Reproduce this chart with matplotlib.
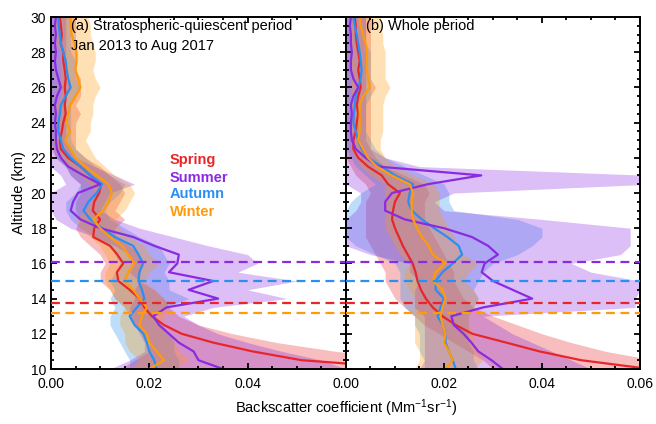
import numpy as np
import matplotlib
matplotlib.use('Agg')
from matplotlib import pyplot as plt
from matplotlib.ticker import MultipleLocator

plt.rcParams['font.family'] = ['Liberation Sans', 'DejaVu Sans']
plt.rcParams['mathtext.fontset'] = 'custom'
plt.rcParams['mathtext.rm'] = 'Liberation Sans'
plt.rcParams['mathtext.it'] = 'Liberation Sans:italic'

# altitude grid (km) of the profiles, 10 to 30 km every 0.5 km
altitude = np.arange(10, 30.01, 0.5)

seasons = ['Spring', 'Summer', 'Autumn', 'Winter']
colors = {'Spring': '#e8262a', 'Summer': '#8a2be2', 'Autumn': '#2a8ff2', 'Winter': '#ff9a0a'}
tropopause = {'Spring': 13.73, 'Summer': 16.08, 'Autumn': 15.0, 'Winter': 13.2}

# (a) stratospheric-quiescent period
spring_a = [0.075, 0.051, 0.041, 0.033, 0.0266, 0.023, 0.0205, 0.019, 0.018, 0.016, 0.0137, 0.0134, 0.0147, 0.0135,
            0.012, 0.0086, 0.0088, 0.010, 0.0085, 0.0088, 0.0098, 0.0102, 0.008, 0.006, 0.0035, 0.002, 0.0018, 0.0022,
            0.0025, 0.003, 0.0028, 0.003, 0.0028, 0.003, 0.0028, 0.0025, 0.0025, 0.002, 0.0022, 0.002, 0.0018]
spring_a_lo = [0.014, 0.017, 0.020, 0.020, 0.019, 0.017, 0.016, 0.015, 0.013, 0.012, 0.010, 0.010, 0.011, 0.010,
               0.008, 0.006, 0.005, 0.006, 0.005, 0.005, 0.006, 0.006, 0.004, 0.003, 0.001, 0.0, 0.0, 0.0,
               0.0, 0.0, 0.0, 0.0, 0.0, 0.0, 0.0, 0.0, 0.0, 0.0, 0.0, 0.0, 0.0]
spring_a_hi = [0.090, 0.075, 0.058, 0.046, 0.037, 0.030, 0.026, 0.024, 0.023, 0.021, 0.018, 0.018, 0.019, 0.018,
               0.016, 0.013, 0.013, 0.015, 0.013, 0.014, 0.015, 0.014, 0.012, 0.010, 0.007, 0.005, 0.005, 0.005,
               0.005, 0.006, 0.005, 0.006, 0.006, 0.006, 0.005, 0.005, 0.005, 0.005, 0.005, 0.005, 0.005]

summer_a = [0.035, 0.030, 0.029, 0.026, 0.024, 0.022, 0.0208, 0.0235, 0.034, 0.028, 0.033, 0.024, 0.0257, 0.026,
            0.021, 0.0167, 0.010, 0.006, 0.004, 0.0045, 0.0055, 0.010, 0.0066, 0.0035, 0.002, 0.0012, 0.001, 0.001,
            0.0008, 0.001, 0.0008, 0.0012, 0.002, 0.0015, 0.001, 0.0008, 0.001, 0.0008, 0.001, 0.0008, 0.001]
summer_a_lo = [0.012, 0.016, 0.019, 0.019, 0.018, 0.017, 0.016, 0.016, 0.017, 0.017, 0.018, 0.016, 0.017, 0.016,
               0.013, 0.009, 0.004, 0.001, 0.0, 0.0, 0.0, 0.003, 0.002, 0.0, 0.0, 0.0, 0.0, 0.0,
               0.0, 0.0, 0.0, 0.0, 0.0, 0.0, 0.0, 0.0, 0.0, 0.0, 0.0, 0.0, 0.0]
summer_a_hi = [0.060, 0.055, 0.047, 0.040, 0.034, 0.030, 0.027, 0.033, 0.048, 0.040, 0.050, 0.038, 0.042, 0.040,
               0.032, 0.025, 0.018, 0.013, 0.010, 0.011, 0.012, 0.017, 0.013, 0.009, 0.005, 0.004, 0.003, 0.003,
               0.003, 0.003, 0.003, 0.003, 0.004, 0.003, 0.003, 0.003, 0.003, 0.003, 0.003, 0.003, 0.003]

autumn_a = [0.0215, 0.021, 0.020, 0.0195, 0.0188, 0.017, 0.016, 0.0175, 0.019, 0.0185, 0.0178, 0.018, 0.0187, 0.0178,
            0.0167, 0.013, 0.0104, 0.008, 0.0066, 0.0076, 0.0093, 0.0104, 0.008, 0.006, 0.004, 0.0025, 0.002, 0.0015,
            0.0015, 0.0018, 0.002, 0.003, 0.004, 0.0035, 0.0032, 0.003, 0.0025, 0.002, 0.0018, 0.0016, 0.0015]
autumn_a_lo = [0.016, 0.016, 0.015, 0.014, 0.013, 0.012, 0.012, 0.013, 0.012, 0.013, 0.012, 0.013, 0.014, 0.013,
               0.012, 0.009, 0.006, 0.004, 0.003, 0.003, 0.005, 0.006, 0.004, 0.003, 0.001, 0.0005, 0.0, 0.0,
               0.0, 0.0, 0.0, 0.0, 0.0, 0.0, 0.0, 0.0, 0.0, 0.0, 0.0, 0.0, 0.0]
autumn_a_hi = [0.026, 0.026, 0.025, 0.025, 0.024, 0.022, 0.021, 0.023, 0.028, 0.024, 0.024, 0.023, 0.024, 0.023,
               0.022, 0.018, 0.015, 0.012, 0.011, 0.012, 0.014, 0.015, 0.012, 0.009, 0.007, 0.005, 0.004, 0.004,
               0.004, 0.004, 0.004, 0.005, 0.006, 0.005, 0.005, 0.005, 0.004, 0.004, 0.004, 0.004, 0.004]

winter_a = [0.020, 0.023, 0.0215, 0.020, 0.0195, 0.018, 0.0185, 0.0195, 0.018, 0.0167, 0.015, 0.0157, 0.017, 0.0157,
            0.0145, 0.012, 0.010, 0.0086, 0.0106, 0.0117, 0.0124, 0.0117, 0.0093, 0.007, 0.005, 0.004, 0.0029, 0.0039,
            0.0032, 0.0035, 0.0039, 0.005, 0.006, 0.0055, 0.005, 0.0052, 0.0052, 0.0048, 0.0042, 0.004, 0.004]
winter_a_lo = [0.016, 0.018, 0.016, 0.015, 0.015, 0.014, 0.014, 0.015, 0.013, 0.012, 0.011, 0.011, 0.012, 0.011,
               0.010, 0.008, 0.006, 0.005, 0.007, 0.008, 0.009, 0.008, 0.006, 0.004, 0.002, 0.001, 0.0005, 0.001,
               0.001, 0.001, 0.001, 0.002, 0.002, 0.002, 0.002, 0.002, 0.002, 0.001, 0.001, 0.001, 0.001]
winter_a_hi = [0.025, 0.028, 0.026, 0.025, 0.024, 0.022, 0.023, 0.024, 0.023, 0.021, 0.019, 0.020, 0.022, 0.020,
               0.019, 0.016, 0.014, 0.013, 0.015, 0.016, 0.017, 0.016, 0.013, 0.011, 0.009, 0.008, 0.007, 0.008,
               0.008, 0.0085, 0.0085, 0.009, 0.010, 0.009, 0.0085, 0.009, 0.009, 0.0085, 0.008, 0.008, 0.0075]

# (b) whole period
spring_b = [0.062, 0.048, 0.0395, 0.0327, 0.0258, 0.0224, 0.0197, 0.0177, 0.0163, 0.0153, 0.0146, 0.0142, 0.0136, 0.0126,
            0.0116, 0.0108, 0.010, 0.0094, 0.0096, 0.010, 0.011, 0.0086, 0.0073, 0.0045, 0.0025, 0.0015, 0.0015, 0.002,
            0.0022, 0.0025, 0.0022, 0.0025, 0.003, 0.0028, 0.0025, 0.0028, 0.0025, 0.0022, 0.002, 0.002, 0.0018]
spring_b_lo = [0.030, 0.028, 0.025, 0.022, 0.019, 0.016, 0.014, 0.012, 0.010, 0.009, 0.008, 0.008, 0.007, 0.006,
               0.005, 0.004, 0.004, 0.004, 0.004, 0.004, 0.005, 0.004, 0.002, 0.001, 0.0, 0.0, 0.0, 0.0,
               0.0, 0.0, 0.0, 0.0, 0.0, 0.0, 0.0, 0.0, 0.0, 0.0, 0.0, 0.0, 0.0]
spring_b_hi = [0.075, 0.063, 0.053, 0.046, 0.040, 0.035, 0.030, 0.026, 0.024, 0.023, 0.022, 0.022, 0.021, 0.020,
               0.019, 0.018, 0.017, 0.016, 0.016, 0.016, 0.017, 0.016, 0.012, 0.008, 0.006, 0.005, 0.005, 0.005,
               0.005, 0.005, 0.005, 0.005, 0.006, 0.005, 0.005, 0.005, 0.005, 0.005, 0.005, 0.005, 0.005]

summer_b = [0.032, 0.0297, 0.027, 0.0256, 0.024, 0.022, 0.0215, 0.028, 0.038, 0.034, 0.030, 0.0277, 0.0283, 0.031,
            0.029, 0.0257, 0.020, 0.012, 0.008, 0.008, 0.0094, 0.0167, 0.0276, 0.0066, 0.004, 0.002, 0.0012, 0.001,
            0.001, 0.0012, 0.001, 0.0015, 0.0025, 0.0015, 0.001, 0.001, 0.0012, 0.001, 0.001, 0.0008, 0.001]
summer_b_lo = [0.015, 0.016, 0.016, 0.016, 0.016, 0.016, 0.016, 0.014, 0.014, 0.014, 0.015, 0.013, 0.013, 0.005,
               0.0, 0.0, 0.0, 0.0, 0.002, 0.003, 0.003, 0.0, 0.0, 0.0, 0.0, 0.0, 0.0, 0.0,
               0.0, 0.0, 0.0, 0.0, 0.0, 0.0, 0.0, 0.0, 0.0, 0.0, 0.0, 0.0, 0.0]
summer_b_hi = [0.050, 0.046, 0.042, 0.038, 0.034, 0.031, 0.028, 0.059, 0.059, 0.060, 0.060, 0.050, 0.046, 0.056,
               0.058, 0.058, 0.058, 0.040, 0.020, 0.018, 0.022, 0.062, 0.062, 0.015, 0.008, 0.005, 0.004, 0.004,
               0.004, 0.004, 0.004, 0.004, 0.004, 0.004, 0.004, 0.004, 0.004, 0.004, 0.004, 0.004, 0.004]

autumn_b = [0.0224, 0.0218, 0.021, 0.0203, 0.0203, 0.0197, 0.0187, 0.0193, 0.020, 0.0183, 0.0183, 0.0197, 0.0218, 0.0237,
            0.023, 0.0207, 0.018, 0.0155, 0.0134, 0.0127, 0.013, 0.0137, 0.010, 0.0073, 0.0045, 0.0032, 0.0025, 0.002,
            0.0015, 0.0016, 0.0018, 0.002, 0.0025, 0.003, 0.0032, 0.003, 0.0028, 0.0025, 0.0022, 0.0018, 0.0015]
autumn_b_lo = [0.016, 0.016, 0.015, 0.015, 0.015, 0.014, 0.014, 0.012, 0.011, 0.011, 0.011, 0.011, 0.010, 0.006,
               0.002, 0.0, 0.0, 0.0, 0.0, 0.001, 0.003, 0.006, 0.004, 0.002, 0.001, 0.0, 0.0, 0.0,
               0.0, 0.0, 0.0, 0.0, 0.0, 0.0, 0.0, 0.0, 0.0, 0.0, 0.0, 0.0, 0.0]
autumn_b_hi = [0.027, 0.026, 0.026, 0.025, 0.025, 0.025, 0.025, 0.026, 0.027, 0.026, 0.027, 0.028, 0.030, 0.035,
               0.038, 0.040, 0.040, 0.035, 0.022, 0.021, 0.021, 0.020, 0.016, 0.012, 0.008, 0.006, 0.005, 0.004,
               0.004, 0.004, 0.004, 0.005, 0.005, 0.005, 0.005, 0.005, 0.005, 0.004, 0.004, 0.004, 0.004]

winter_b = [0.0203, 0.0218, 0.021, 0.020, 0.0203, 0.0197, 0.0193, 0.0197, 0.0203, 0.0197, 0.0177, 0.0183, 0.0203, 0.0177,
            0.0169, 0.0155, 0.0145, 0.0137, 0.0134, 0.0134, 0.0137, 0.013, 0.0093, 0.0063, 0.0045, 0.0035, 0.0025, 0.0028,
            0.0028, 0.0028, 0.0028, 0.0035, 0.0049, 0.0045, 0.0043, 0.0043, 0.0043, 0.004, 0.0035, 0.003, 0.0028]
winter_b_lo = [0.014, 0.015, 0.015, 0.014, 0.014, 0.014, 0.014, 0.014, 0.014, 0.013, 0.012, 0.012, 0.013, 0.011,
               0.010, 0.009, 0.008, 0.008, 0.008, 0.008, 0.008, 0.008, 0.005, 0.003, 0.002, 0.001, 0.001, 0.001,
               0.001, 0.001, 0.001, 0.001, 0.001, 0.001, 0.001, 0.001, 0.001, 0.001, 0.001, 0.001, 0.001]
winter_b_hi = [0.026, 0.028, 0.027, 0.026, 0.026, 0.025, 0.025, 0.026, 0.027, 0.026, 0.024, 0.025, 0.027, 0.024,
               0.023, 0.022, 0.021, 0.020, 0.019, 0.019, 0.019, 0.018, 0.014, 0.010, 0.008, 0.007, 0.007, 0.0075,
               0.0075, 0.0075, 0.0075, 0.008, 0.009, 0.008, 0.008, 0.008, 0.008, 0.0075, 0.0075, 0.007, 0.007]

panel_a = {
    'Spring': (spring_a, spring_a_lo, spring_a_hi),
    'Summer': (summer_a, summer_a_lo, summer_a_hi),
    'Autumn': (autumn_a, autumn_a_lo, autumn_a_hi),
    'Winter': (winter_a, winter_a_lo, winter_a_hi),
}
panel_b = {
    'Spring': (spring_b, spring_b_lo, spring_b_hi),
    'Summer': (summer_b, summer_b_lo, summer_b_hi),
    'Autumn': (autumn_b, autumn_b_lo, autumn_b_hi),
    'Winter': (winter_b, winter_b_lo, winter_b_hi),
}


def draw_panel(ax, profiles):
    # spring and autumn lines sit under the later fills, summer and winter on top
    for name in ['Spring', 'Autumn']:
        mean, lo, hi = profiles[name]
        ax.plot(mean, altitude, color=colors[name], linewidth=1.6)
    for name in ['Spring', 'Autumn', 'Summer', 'Winter']:
        mean, lo, hi = profiles[name]
        ax.fill_betweenx(altitude, lo, hi, color=colors[name], alpha=0.3, linewidth=0)
    for name in ['Summer', 'Winter']:
        mean, lo, hi = profiles[name]
        ax.plot(mean, altitude, color=colors[name], linewidth=1.6)

    for name in seasons:
        ax.axhline(tropopause[name], color=colors[name], linestyle=(0, (4, 2.5)), linewidth=1.6, zorder=5)

    ax.set_xlim(0, 0.06)
    ax.set_ylim(10, 30)
    ax.xaxis.set_major_locator(MultipleLocator(0.02))
    ax.xaxis.set_minor_locator(MultipleLocator(0.005))
    ax.yaxis.set_major_locator(MultipleLocator(2))
    ax.yaxis.set_minor_locator(MultipleLocator(0.5))
    ax.tick_params(which='both', direction='in', top=True, right=True, labelsize=10, width=1.3)
    ax.tick_params(which='major', length=4)
    ax.tick_params(which='minor', length=2.5)
    ax.tick_params(axis='x', pad=6)
    ax.xaxis.set_major_formatter(plt.FuncFormatter(lambda v, p: f'{v:.2f}'))
    for spine in ax.spines.values():
        spine.set_linewidth(1.4)


def main():
    fig = plt.figure(figsize=(6.56, 4.24), dpi=100)
    ax_a = fig.add_axes([0.0777, 0.1297, 0.4497, 0.8302])
    ax_b = fig.add_axes([0.5274, 0.1297, 0.4482, 0.8302])

    draw_panel(ax_a, panel_a)
    draw_panel(ax_b, panel_b)

    ax_a.set_xticks([0, 0.02, 0.04])
    ax_b.set_xticks([0, 0.02, 0.04, 0.06])
    ax_b.set_yticklabels([])

    ax_a.set_ylabel('Altitude (km)', fontsize=10.5, labelpad=3)
    fig.text(0.527, 0.038, 'Backscatter coefficient (Mm$^{-1}$sr$^{-1}$)', ha='center', va='center', fontsize=10.5)

    ax_a.text(0.068, 0.974, '(a) Stratospheric-quiescent period', transform=ax_a.transAxes,
              ha='left', va='center', fontsize=10.5)
    ax_a.text(0.068, 0.917, 'Jan 2013 to Aug 2017', transform=ax_a.transAxes,
              ha='left', va='center', fontsize=10.5)
    ax_b.text(0.068, 0.974, '(b) Whole period', transform=ax_b.transAxes,
              ha='left', va='center', fontsize=10.5)

    label_y = [21.9, 20.85, 19.94, 18.9]
    for name, y in zip(seasons, label_y):
        ax_a.text(0.0242, y, name, color=colors[name], fontsize=10.5, fontweight='bold', ha='left', va='center')

    fig.savefig('out.png', dpi=100)
    plt.close(fig)


if __name__ == '__main__':
    main()
